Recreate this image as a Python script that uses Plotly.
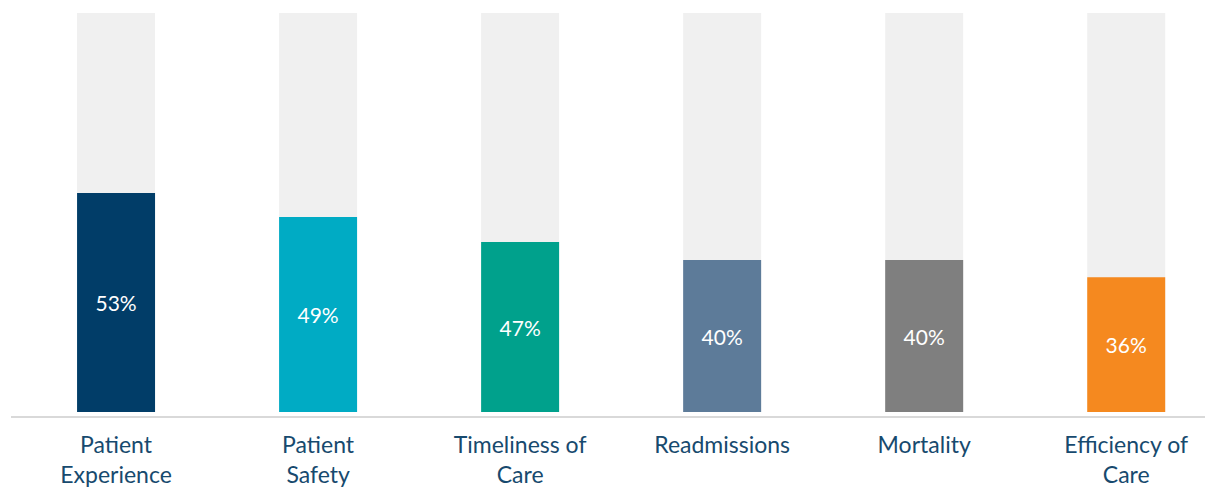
import plotly.graph_objects as go

categories = ["Patient<br>Experience", "Patient<br>Safety", "Timeliness of<br>Care",
              "Readmissions", "Mortality", "Efficiency of<br>Care"]
# bar heights (share of the full grey column)
values = [54.9, 48.9, 42.6, 38.1, 38.1, 33.8]
# labels printed on the bars
value_labels = ["53%", "49%", "47%", "40%", "40%", "36%"]
full_scale = [100, 100, 100, 100, 100, 100]
colors = ["#013d68", "#00abc4", "#00a18c", "#5d7b99", "#7f7f7f", "#f5891f"]

FONT = "Lato, 'Open Sans', sans-serif"

fig = go.Figure()
fig.add_trace(go.Bar(
    x=categories, y=full_scale, marker=dict(color="#f0f0f0", line=dict(width=0)),
    width=0.386, hoverinfo="skip", showlegend=False,
))
fig.add_trace(go.Bar(
    x=categories, y=values, marker=dict(color=colors, line=dict(width=0)),
    width=0.386, text=value_labels, textposition="inside", insidetextanchor="middle",
    textangle=0, constraintext="none",
    textfont=dict(family=FONT, size=21, color="white"), showlegend=False,
))

fig.update_layout(
    barmode="overlay",
    width=1205, height=489,
    margin=dict(l=11, r=0, t=13, b=73),
    paper_bgcolor="white", plot_bgcolor="white",
    xaxis=dict(
        range=[-0.52, 5.39], showgrid=False, zeroline=False, automargin=False,
        showline=True, linecolor="#d9d9d9", linewidth=2,
        ticks="", ticklabelstandoff=7,
        tickfont=dict(family=FONT, size=23, color="#174a6e"),
    ),
    yaxis=dict(range=[-1, 100], visible=False, showgrid=False, zeroline=False,
               automargin=False),
)

fig.write_html("out.html")
